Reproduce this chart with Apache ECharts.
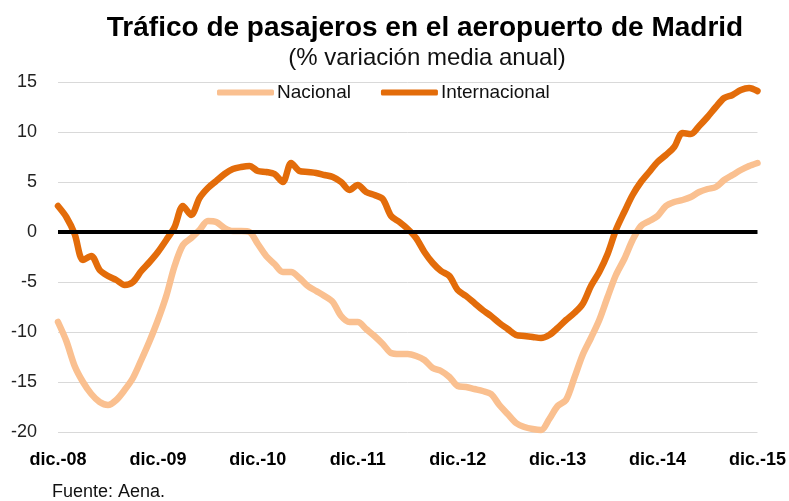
<!DOCTYPE html>
<html>
<head>
<meta charset="utf-8">
<script src="https://cdn.jsdelivr.net/npm/echarts@6/dist/echarts.min.js"></script>
<style>
  html, body { margin: 0; padding: 0; background: #fff; }
  #chart { width: 789px; height: 501px; }
</style>
</head>
<body>
<div id="chart"></div>
<script>
// meses dic.-08 ... dic.-15
var monthNames = ["ene.", "feb.", "mar.", "abr.", "may.", "jun.", "jul.", "ago.", "sep.", "oct.", "nov.", "dic."];
var tickLabels = ["dic.-08", "dic.-09", "dic.-10", "dic.-11", "dic.-12", "dic.-13", "dic.-14", "dic.-15"];

var nacional = [
  -9.0, -10.9, -13.4, -15.0, -16.2, -17.0, -17.3, -16.8, -15.8, -14.6, -12.8, -10.9,
  -8.8, -6.4, -3.4, -1.3, -0.6, 0.2, 1.1, 1.0, 0.4, 0.1, 0.1, 0.0,
  -1.2, -2.4, -3.2, -4.0, -4.0, -4.6, -5.4, -5.9, -6.4, -7.0, -8.4, -9.0,
  -9.0, -9.7, -10.4, -11.2, -12.1, -12.2, -12.2, -12.4, -12.8, -13.6, -13.9, -14.5,
  -15.4, -15.5, -15.7, -15.9, -16.2, -17.3, -18.2, -19.1, -19.5, -19.7, -19.8, -18.7,
  -17.4, -16.8, -14.6, -12.3, -10.6, -8.8, -6.5, -4.3, -2.7, -0.8, 0.6, 1.1,
  1.6, 2.6, 3.0, 3.2, 3.5, 4.0, 4.3, 4.5, 5.2, 5.7, 6.2, 6.6,
  6.9
];
var internacional = [
  2.6, 1.5, -0.2, -2.8, -2.4, -3.8, -4.4, -4.8, -5.3, -5.0, -3.9, -3.0,
  -2.0, -0.8, 0.5, 2.6, 1.7, 3.4, 4.4, 5.1, 5.8, 6.3, 6.5, 6.6,
  6.1, 6.0, 5.8, 5.0, 6.9, 6.1, 6.0, 5.9, 5.7, 5.5, 5.0, 4.2,
  4.7, 4.0, 3.7, 3.3, 1.6, 1.0, 0.3, -0.6, -2.0, -3.1, -3.9, -4.4,
  -5.8, -6.4, -7.1, -7.8, -8.4, -9.1, -9.7, -10.3, -10.4, -10.5, -10.6, -10.3,
  -9.6, -8.8, -8.1, -7.2, -5.4, -4.0, -2.2, 0.2, 2.0, 3.7, 5.0, 6.0,
  7.0, 7.7, 8.5, 9.9, 9.8, 10.6, 11.5, 12.5, 13.4, 13.7, 14.2, 14.4,
  14.1
];

var categories = [];
for (var y = 8; y <= 15; y++) {
  for (var m = 0; m < 12; m++) {
    if (y === 8 && m < 11) continue;
    categories.push(monthNames[m] + "-" + (y < 10 ? "0" + y : y));
  }
}
categories = categories.slice(0, nacional.length);

var myChart = echarts.init(document.getElementById("chart"));
myChart.setOption({
  animation: false,
  title: [
    {
      text: "Tráfico de pasajeros en el aeropuerto de Madrid",
      left: 420, top: 9, textAlign: "center",
      textStyle: { fontFamily: "Liberation Sans, Arial", fontSize: 28, fontWeight: "bold", color: "#000" }
    },
    {
      text: "(% variación media anual)",
      left: 422, top: 41, textAlign: "center",
      textStyle: { fontFamily: "Liberation Sans, Arial", fontSize: 24, fontWeight: "normal", color: "#111" }
    }
  ],
  legend: {
    left: 212, top: 78,
    itemWidth: 57, itemHeight: 6, itemGap: 30,
    icon: "roundRect",
    textStyle: { fontFamily: "Liberation Sans, Arial", fontSize: 19, color: "#111", padding: [0, 0, 0, -2] },
    data: ["Nacional", "Internacional"]
  },
  grid: { left: 58, right: 31, top: 82, bottom: 69 },
  xAxis: {
    type: "category",
    data: categories,
    boundaryGap: false,
    axisLine: { show: false },
    axisTick: { show: false },
    axisLabel: {
      interval: 11,
      margin: 19,
      fontFamily: "Liberation Sans, Arial",
      fontSize: 18, fontWeight: "bold", color: "#000",
      formatter: function (v, i) { return tickLabels[i / 12]; }
    },
    splitLine: { show: false }
  },
  yAxis: {
    type: "value",
    min: -20, max: 15, interval: 5,
    axisLine: { show: false },
    axisTick: { show: false },
    axisLabel: { margin: 21, fontFamily: "Liberation Sans, Arial", fontSize: 18, color: "#222" },
    splitLine: { lineStyle: { color: "#d9d9d9", width: 1 } }
  },
  series: [
    {
      name: "Nacional",
      type: "line",
      data: nacional,
      symbol: "none",
      smooth: 0.3,
      color: "#fac090",
      lineStyle: { width: 6.5, color: "#fac090", cap: "round", join: "round" },
      markLine: {
        silent: true,
        symbol: "none",
        label: { show: false },
        lineStyle: { color: "#000", width: 4, type: "solid" },
        data: [{ yAxis: 0 }]
      },
      z: 3
    },
    {
      name: "Internacional",
      type: "line",
      data: internacional,
      symbol: "none",
      smooth: 0.3,
      color: "#e36c0a",
      lineStyle: { width: 6.5, color: "#e36c0a", cap: "round", join: "round" },
      z: 4
    }
  ],
  graphic: [
    {
      type: "text",
      left: 52, top: 483,
      style: { text: "Fuente: Aena.", fontFamily: "Liberation Sans, Arial", fontSize: 18, fill: "#111" }
    }
  ]
});
</script>
</body>
</html>
